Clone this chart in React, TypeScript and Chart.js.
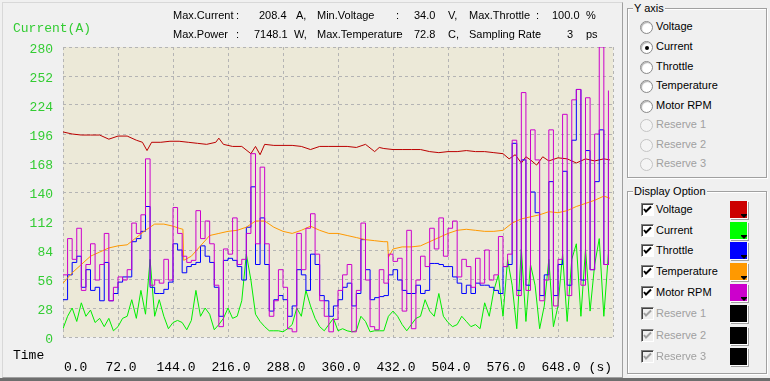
import React, { useEffect, useRef } from "react";
import { Chart, registerables } from "chart.js";

Chart.register(...registerables);

// ---- data (values as plotted on the Current(A) axis) ----
const SAMPLE_STEP = 6; // seconds between fast samples

const currentValues = [
  8, 20, 28, 15, 33, 20, 26, 14, 18, 10,
  18, 6, 10, 18, 20, 36, 18, 45, 22, 75,
  20, 36, 20, 8, 14, 16, 14, 7, 16, 45,
  20, 28, 22, 7, 12, 18, 28, 18, 20, 35,
  80, 55, 22, 15, 10, 6, 6, 6, 5, 8,
  12, 28, 20, 45, 30, 18, 10, 6, 12, 18,
  6, 8, 6, 5, 6, 20, 15, 5, 6, 6,
  6, 20, 25, 20, 12, 6, 12, 18, 20, 36,
  25, 20, 42, 20, 14, 10, 12, 20, 15, 10,
  12, 8, 33, 20, 45, 60, 20, 75, 50, 8,
  85, 15, 70, 50, 8, 30, 75, 10, 30, 80,
  15, 75, 90, 20, 85, 25, 70, 95, 20, 80,
];

const throttleValues = [
  36, 60, 72, 78, 48, 65, 45, 48, 35, 72,
  35, 42, 53, 58, 58, 92, 95, 102, 126, 48,
  42, 42, 46, 53, 90, 84, 62, 68, 70, 72,
  88, 78, 72, 48, 20, 74, 76, 74, 68, 55,
  106, 145, 70, 115, 70, 25, 36, 40, 36, 20,
  30, 65, 60, 45, 80, 70, 40, 35, 20, 30,
  36, 48, 52, 30, 42, 94, 65, 36, 38, 39,
  40, 60, 65, 55, 45, 42, 42, 50, 42, 45,
  71, 71, 70, 68, 68, 58, 52, 42, 50, 42,
  52, 50, 50, 48, 45, 42, 68, 70, 187, 45,
  171, 50, 140, 120, 40, 60, 150, 40, 70, 160,
  50, 190, 239, 55, 180, 65, 150, 200, 70, 190,
];

const rpmValues = [
  60, 95, 75, 105, 45, 70, 90, 55, 70, 100,
  35, 48, 58, 55, 65, 110, 100, 118, 172, 50,
  55, 52, 75, 55, 125, 100, 78, 72, 74, 122,
  95, 112, 90, 50, 10, 85, 80, 115, 70, 75,
  100, 177, 90, 164, 90, 20, 35, 65, 48, 8,
  5, 100, 65, 105, 119, 80, 35, 20, 5, 17,
  45, 60, 70, 5, 45, 110, 55, 10, 7, 65,
  52, 80, 73, 76, 25, 103, 8, 55, 78, 68,
  105, 85, 115, 78, 105, 112, 58, 75, 68, 48,
  76, 52, 84, 55, 60, 97, 68, 80, 190, 40,
  236, 45, 200, 171, 35, 55, 200, 30, 75, 215,
  40, 229, 239, 50, 231, 65, 196, 280, 70, 238,
];

const voltageTimes = [
  0, 12, 24, 36, 48, 60, 72, 84, 96, 104, 110, 116, 128, 140, 152, 164, 176, 188,
  200, 204, 210, 222, 234, 246, 252, 258, 264, 276, 288, 300, 312, 324, 336, 348,
  360, 372, 384, 396, 408, 414, 420, 432, 444, 456, 468, 480, 492, 504, 516, 528,
  540, 552, 564, 576, 584, 592, 600, 606, 612, 620, 628, 636, 648, 660, 672, 684,
  696, 708, 716,
];
const voltageValues = [
  198, 196, 195, 195, 195, 191, 194, 194, 190, 188, 180, 188, 188, 189, 189, 188, 187, 186,
  188, 192, 186, 184, 184, 177, 184, 176, 186, 185, 185, 185, 184, 181, 184, 184,
  184, 184, 183, 186, 179, 183, 182, 181, 181, 181, 181, 179, 178, 179, 179, 180,
  179, 179, 178, 177, 172, 176, 168, 174, 171, 166, 174, 170, 173, 172, 168, 172,
  170, 172, 171,
];

const temperatureTimes = [
  0, 12, 24, 36, 48, 60, 72, 84, 96, 108, 120, 132, 144, 152, 157, 158, 168, 180,
  192, 204, 216, 228, 240, 252, 264, 276, 288, 300, 312, 324, 336, 348, 360, 372,
  384, 396, 408, 420, 425, 426, 432, 444, 456, 468, 480, 492, 504, 516, 528, 540,
  552, 564, 576, 588, 600, 612, 624, 636, 648, 660, 672, 684, 696, 708, 716,
];
const temperatureValues = [
  52, 62, 70, 78, 82, 86, 88, 89, 96, 103, 109, 109, 107, 105, 104, 74, 78, 88,
  98, 100, 102, 103, 106, 112, 112, 106, 102, 100, 103, 107, 103, 100, 100, 98,
  96, 94, 93, 92, 92, 77, 85, 87, 87, 88, 92, 96, 100, 103, 104, 103,
  102, 102, 103, 110, 114, 116, 118, 121, 120, 122, 126, 129, 132, 136, 134,
];

const xTickValues = [0, 72, 144, 216, 288, 360, 432, 504, 576, 648, 720];
const xTickLabels = ["0.0", "72.0", "144.0", "216.0", "288.0", "360.0", "432.0", "504.0", "576.0", "648.0", "(s)"];
const yTickValues = [0, 28, 56, 84, 112, 140, 168, 196, 224, 252, 280];

const seriesNames = ["Voltage", "Current", "Throttle", "Temperature", "Motor RPM", "Reserve 1", "Reserve 2", "Reserve 3"];
const seriesColors = ["#cc0000", "#00ff00", "#0000ff", "#ff9900", "#cc00cc", "#000000", "#000000", "#000000"];
const seriesEnabled = [true, true, true, true, true, false, false, false];
const selectedAxis = 1;

const statsLine1 = [
  { t: "Max.Current", x: 173 }, { t: ":", x: 236 }, { t: "208.4", x: 259 }, { t: "A,", x: 296 },
  { t: "Min.Voltage", x: 317 }, { t: ":", x: 396 }, { t: "34.0", x: 414 }, { t: "V,", x: 448 },
  { t: "Max.Throttle", x: 469 }, { t: ":", x: 536 }, { t: "100.0", x: 552 }, { t: "%", x: 586 },
];
const statsLine2 = [
  { t: "Max.Power", x: 173 }, { t: ":", x: 236 }, { t: "7148.1", x: 254 }, { t: "W,", x: 294 },
  { t: "Max.Temperature", x: 317 }, { t: ":", x: 396 }, { t: "72.8", x: 414 }, { t: "C,", x: 448 },
  { t: "Sampling Rate", x: 469 }, { t: ":", x: 536 }, { t: "3", x: 567 }, { t: "ps", x: 586 },
];

const FONT_UI = "'Liberation Sans', Arial, sans-serif";
const FONT_MONO = "'Liberation Mono', 'Courier New', monospace";

function toPoints(ts: number[], vs: number[]) {
  return vs.map((v, i) => ({ x: ts[i], y: v }));
}

const plotBackground = {
  id: "plotBackground",
  beforeDraw(chart: any) {
    const { ctx, chartArea: a } = chart;
    ctx.save();
    ctx.fillStyle = "#ece9d8";
    ctx.fillRect(a.left, a.top, a.right - a.left, a.bottom - a.top);
    ctx.restore();
  },
};

const xLabels = {
  id: "xLabels",
  afterDraw(chart: any) {
    const s = chart.scales.x;
    const a = chart.chartArea;
    const ctx = chart.ctx;
    ctx.save();
    ctx.font = `13px ${FONT_MONO}`;
    ctx.fillStyle = "#000";
    ctx.textBaseline = "middle";
    ctx.textAlign = "left";
    xTickValues.forEach((v, i) => {
      const px = s.getPixelForValue(v);
      const label = xTickLabels[i];
      const w = ctx.measureText(label).width;
      let left: number;
      if (i === xTickValues.length - 1) left = px - w - 1;
      else left = Math.max(a.left + 1, px + 3 - w / 2);
      ctx.fillText(label, left, a.bottom + 31);
    });
    ctx.restore();
  },
};

function ChartCanvas() {
  const ref = useRef<HTMLCanvasElement | null>(null);
  useEffect(() => {
    if (!ref.current) return;
    const fastTimes = currentValues.map((_, i) => i * SAMPLE_STEP);
    const gridColor = "#b4b4b4";
    const common = { borderWidth: 1, pointRadius: 0, tension: 0, fill: false };
    const chart = new Chart(ref.current, {
      type: "line",
      data: {
        datasets: [
          { ...common, label: "Motor RPM", data: toPoints(fastTimes, rpmValues), borderColor: seriesColors[4], stepped: true, order: 0 },
          { ...common, label: "Temperature", data: toPoints(temperatureTimes, temperatureValues), borderColor: seriesColors[3], order: 1 },
          { ...common, label: "Throttle", data: toPoints(fastTimes, throttleValues), borderColor: seriesColors[2], stepped: true, order: 2 },
          { ...common, label: "Current", data: toPoints(fastTimes, currentValues), borderColor: "#00ee00", order: 3 },
          { ...common, label: "Voltage", data: toPoints(voltageTimes, voltageValues), borderColor: "#bb0000", order: 4 },
        ],
      } as any,
      options: {
        responsive: false,
        animation: false,
        events: [],
        layout: { padding: { left: 0, top: 47, right: 9, bottom: 0 } },
        plugins: { legend: { display: false }, tooltip: { enabled: false } },
        scales: {
          x: {
            type: "linear",
            min: 0,
            max: 720,
            afterBuildTicks: (s: any) => { s.ticks = xTickValues.map((v) => ({ value: v })); },
            ticks: { display: false },
            grid: { color: gridColor, drawTicks: false },
            border: { display: false, dash: [3, 3] },
            afterFit: (s: any) => { s.height = 41; },
          },
          y: {
            type: "linear",
            min: 0,
            max: 280,
            afterBuildTicks: (s: any) => { s.ticks = yTickValues.map((v) => ({ value: v })); },
            ticks: { color: "#33cc33", font: { family: FONT_MONO, size: 13 }, padding: 10, labelOffset: 3 },
            grid: { color: gridColor, drawTicks: false },
            border: { display: false, dash: [3, 3] },
            afterFit: (s: any) => { s.width = 63; },
          },
        },
      } as any,
      plugins: [plotBackground, xLabels],
    });
    return () => chart.destroy();
  }, []);
  return <canvas ref={ref} width={622} height={378} style={{ position: "absolute", left: 0, top: 0 }} />;
}

function Radio({ checked, disabled }: { checked: boolean; disabled: boolean }) {
  return (
    <div style={{
      position: "absolute", left: 0, top: -6, width: 11, height: 11, borderRadius: "50%",
      background: disabled ? "#f4f4f4" : "#fff",
      border: `1px solid ${disabled ? "#c4c4c4" : "#8a8a8a"}`,
      boxShadow: disabled ? "none" : "inset 1px 1px 1px #b0b0b0",
    }}>
      {checked && (
        <div style={{ position: "absolute", left: 3.5, top: 3.5, width: 4, height: 4, borderRadius: "50%", background: "#000" }} />
      )}
    </div>
  );
}

function Check({ disabled }: { disabled: boolean }) {
  return (
    <div style={{
      position: "absolute", left: 0, top: -7, width: 11, height: 11,
      background: disabled ? "#f0f0f0" : "#fff",
      borderTop: "1px solid #808080", borderLeft: "1px solid #808080",
      borderBottom: "1px solid #fff", borderRight: "1px solid #fff",
      boxShadow: "inset 1px 1px 0 #404040",
    }}>
      <svg width="11" height="11" style={{ position: "absolute", left: 0, top: 0 }}>
        <polyline points="2,5 4,7.5 9,2.5" fill="none" stroke={disabled ? "#a0a0a0" : "#000"} strokeWidth="2" />
      </svg>
    </div>
  );
}

function Swatch({ color }: { color: string }) {
  return (
    <div style={{
      position: "absolute", left: 730, top: -9, width: 17, height: 17, background: color,
      borderRight: "1px solid #fff", borderBottom: "1px solid #fff",
      boxShadow: "1px 1px 0 #a0a0a0",
    }}>
      <div style={{
        position: "absolute", right: 0, bottom: 0, width: 0, height: 0,
        borderLeft: "3px solid transparent", borderRight: "3px solid transparent", borderTop: "3px solid #000",
      }} />
      <div style={{ position: "absolute", right: 0, bottom: 3, width: 6, height: 1, background: "#000" }} />
    </div>
  );
}

function GroupBox({ title, left, top, width, height }: { title: string; left: number; top: number; width: number; height: number }) {
  return (
    <div style={{
      position: "absolute", left, top, width, height,
      border: "1px solid #a0a0a0", boxShadow: "inset 1px 1px 0 #fff, 1px 1px 0 #fff",
    }}>
      <div style={{
        position: "absolute", left: 5, top: -8, padding: "0 1px", background: "#f0f0f0",
        fontFamily: FONT_UI, fontSize: 11, lineHeight: "14px", color: "#000",
      }}>{title}</div>
    </div>
  );
}

const yAxisRowCenters = [27, 47, 67, 86, 106, 125, 145, 164];
const displayRowCenters = [210, 231, 251, 272, 293, 314, 336, 357];

export default function App() {
  const textStyle: React.CSSProperties = {
    position: "absolute", fontFamily: FONT_UI, fontSize: 11, lineHeight: "13px", color: "#000", whiteSpace: "nowrap",
  };
  return (
    <div style={{ position: "fixed", left: 0, top: 0, width: 770, height: 381, background: "#f0f0f0", overflow: "hidden" }}>
      <div style={{
        position: "absolute", left: 2, top: 2, width: 619, height: 374,
        borderTop: "1px solid #d8d8d8", borderLeft: "1px solid #d8d8d8",
        borderRight: "1px solid #a0a0a0", borderBottom: "1px solid #a0a0a0",
      }} />
      <div style={{ position: "absolute", left: 0, top: 378, width: 770, height: 3, background: "#6e6e6e" }} />
      <ChartCanvas />
      {statsLine1.map((s, i) => (
        <div key={"a" + i} style={{ ...textStyle, left: s.x, top: 9 }}>{s.t}</div>
      ))}
      {statsLine2.map((s, i) => (
        <div key={"b" + i} style={{ ...textStyle, left: s.x, top: 28 }}>{s.t}</div>
      ))}
      <div style={{ position: "absolute", left: 13, top: 22, fontFamily: FONT_MONO, fontSize: 13, lineHeight: "14px", color: "#33cc33" }}>Current(A)</div>
      <div style={{ position: "absolute", left: 13, top: 349, fontFamily: FONT_MONO, fontSize: 13, lineHeight: "14px", color: "#000" }}>Time</div>

      <GroupBox title="Y axis" left={627} top={8} width={138} height={168} />
      {seriesNames.map((n, i) => (
        <div key={"r" + i} style={{ position: "absolute", left: 640, top: yAxisRowCenters[i], width: 120, height: 0 }}>
          <Radio checked={i === selectedAxis} disabled={!seriesEnabled[i]} />
          <div style={{ ...textStyle, left: 16, top: -7, color: seriesEnabled[i] ? "#000" : "#a0a0a0" }}>{n}</div>
        </div>
      ))}

      <GroupBox title="Display Option" left={627} top={191} width={138} height={181} />
      {seriesNames.map((n, i) => (
        <div key={"c" + i} style={{ position: "absolute", left: 0, top: displayRowCenters[i], width: 770, height: 0 }}>
          <div style={{ position: "absolute", left: 641, top: 0 }}>
            <Check disabled={!seriesEnabled[i]} />
          </div>
          <div style={{ ...textStyle, left: 656, top: -7, color: seriesEnabled[i] ? "#000" : "#a0a0a0" }}>{n}</div>
          <Swatch color={seriesColors[i]} />
        </div>
      ))}
    </div>
  );
}
